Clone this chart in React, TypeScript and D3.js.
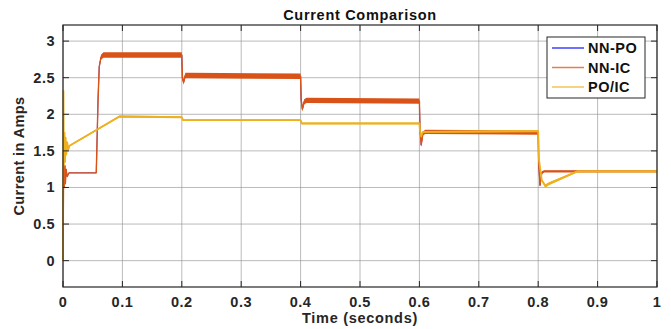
import React, { useEffect, useRef } from 'react';
import * as d3 from 'd3';

// NN-IC current (A)
const nnIcTime = [0, 0.001, 0.002, 0.003, 0.004, 0.005, 0.007, 0.01, 0.056, 0.059, 0.061, 0.064, 0.068, 0.2, 0.201, 0.203, 0.206, 0.21, 0.4, 0.401, 0.403, 0.406, 0.41, 0.6, 0.601, 0.603, 0.606, 0.61, 0.8, 0.801, 0.803, 0.806, 0.81, 1.0];
const nnIcValue = [0, 1.3, 1.0, 1.3, 1.05, 1.25, 1.15, 1.2, 1.2, 2.2, 2.65, 2.78, 2.81, 2.81, 2.5, 2.44, 2.53, 2.53, 2.52, 2.2, 2.07, 2.17, 2.19, 2.18, 1.8, 1.58, 1.74, 1.76, 1.75, 1.3, 1.03, 1.2, 1.22, 1.22];
const nnIcRipple = [0, 0, 0, 0, 0, 0, 0, 0, 0, 0, 0.02, 0.035, 0.038, 0.038, 0.035, 0.035, 0.038, 0.038, 0.038, 0.035, 0.035, 0.035, 0.035, 0.035, 0.028, 0.028, 0.028, 0.028, 0.028, 0.022, 0.022, 0.02, 0.016, 0.016];

// NN-PO is hidden beneath NN-IC
const nnPoValue = nnIcValue;

// PO/IC current (A)
const poIcTime = [0, 0.0008, 0.0015, 0.0025, 0.0035, 0.0045, 0.0055, 0.007, 0.009, 0.011, 0.095, 0.2, 0.202, 0.4, 0.402, 0.6, 0.601, 0.603, 0.606, 0.8, 0.801, 0.806, 0.812, 0.818, 0.866, 1.0];
const poIcValue = [0, 2.32, 1.3, 1.75, 1.35, 1.68, 1.45, 1.62, 1.52, 1.57, 1.97, 1.96, 1.92, 1.92, 1.875, 1.875, 1.78, 1.7, 1.76, 1.77, 1.4, 1.1, 1.02, 1.05, 1.22, 1.22];
const poIcRipple = [0, 0, 0, 0, 0, 0, 0, 0, 0, 0.01, 0.014, 0.014, 0.013, 0.013, 0.013, 0.013, 0.013, 0.013, 0.013, 0.013, 0.013, 0.02, 0.025, 0.02, 0.012, 0.012];

const xTicks = [0, 0.1, 0.2, 0.3, 0.4, 0.5, 0.6, 0.7, 0.8, 0.9, 1];
const yTicks = [0, 0.5, 1, 1.5, 2, 2.5, 3];
const legendNames = ['NN-PO', 'NN-IC', 'PO/IC'];
const colors = ['#0000ff', '#d95319', '#edb120'];

const W = 671;
const H = 329;
const m = { left: 63, right: 14, top: 25, bottom: 42 };

const App = () => {
  const ref = useRef<SVGSVGElement>(null);

  useEffect(() => {
    const svg = d3.select(ref.current);
    svg.selectAll('*').remove();

    const x = d3.scaleLinear().domain([0, 1]).range([m.left, W - m.right]);
    const y = d3.scaleLinear().domain([-0.36, 3.22]).range([H - m.bottom, m.top]);
    const font = 'Arial, "Liberation Sans", Helvetica, sans-serif';

    svg.append('rect').attr('width', W).attr('height', H).attr('fill', 'white');

    // grid
    const grid = svg.append('g').attr('stroke', '#8c8c8c').attr('stroke-width', 1).attr('stroke-opacity', 0.6);
    grid.selectAll('line.v').data(xTicks).join('line')
      .attr('x1', d => x(d)).attr('x2', d => x(d))
      .attr('y1', m.top).attr('y2', H - m.bottom);
    grid.selectAll('line.h').data(yTicks).join('line')
      .attr('y1', d => y(d)).attr('y2', d => y(d))
      .attr('x1', m.left).attr('x2', W - m.right);

    const plot = svg.append('g');

    const series = [
      { t: nnIcTime, v: nnPoValue, r: null, c: colors[0], w: 0.7 },
      { t: nnIcTime, v: nnIcValue, r: nnIcRipple, c: colors[1], w: 1.4 },
      { t: poIcTime, v: poIcValue, r: poIcRipple, c: colors[2], w: 1.8 },
    ];

    series.forEach(s => {
      const idx = d3.range(s.t.length);
      if (s.r) {
        const r = s.r;
        const area = d3.area<number>()
          .x(i => x(s.t[i]))
          .y0(i => y(s.v[i] - r[i]))
          .y1(i => y(s.v[i] + r[i]));
        plot.append('path').attr('d', area(idx)).attr('fill', s.c);
      }
      const line = d3.line<number>().x(i => x(s.t[i])).y(i => y(s.v[i]));
      plot.append('path').attr('d', line(idx)).attr('fill', 'none')
        .attr('stroke', s.c).attr('stroke-width', s.w).attr('stroke-linejoin', 'round');
    });

    // axes box and ticks
    const axisColor = '#262626';
    svg.append('rect')
      .attr('x', m.left).attr('y', m.top)
      .attr('width', W - m.right - m.left).attr('height', H - m.bottom - m.top)
      .attr('fill', 'none').attr('stroke', axisColor).attr('stroke-width', 1.2);

    const tk = svg.append('g').attr('stroke', axisColor).attr('stroke-width', 1);
    xTicks.forEach(d => {
      tk.append('line').attr('x1', x(d)).attr('x2', x(d)).attr('y1', H - m.bottom).attr('y2', H - m.bottom - 6);
      tk.append('line').attr('x1', x(d)).attr('x2', x(d)).attr('y1', m.top).attr('y2', m.top + 6);
    });
    yTicks.forEach(d => {
      tk.append('line').attr('y1', y(d)).attr('y2', y(d)).attr('x1', m.left).attr('x2', m.left + 6);
      tk.append('line').attr('y1', y(d)).attr('y2', y(d)).attr('x1', W - m.right).attr('x2', W - m.right - 6);
    });

    const labels = svg.append('g').attr('font-family', font).attr('font-weight', 'bold')
      .attr('font-size', 14.5).attr('letter-spacing', 0.5).attr('fill', '#262626');
    labels.selectAll('text.x').data(xTicks).join('text')
      .attr('x', d => x(d)).attr('y', H - m.bottom + 20)
      .attr('text-anchor', 'middle').text(d => String(d));
    labels.selectAll('text.y').data(yTicks).join('text')
      .attr('x', m.left - 8).attr('y', d => y(d) + 5)
      .attr('text-anchor', 'end').text(d => String(d));

    svg.append('text')
      .attr('x', (m.left + W - m.right) / 2).attr('y', 20)
      .attr('text-anchor', 'middle').attr('font-family', font).attr('font-weight', 'bold')
      .attr('font-size', 14.5).attr('letter-spacing', 0.7).attr('fill', '#111').text('Current Comparison');

    svg.append('text')
      .attr('x', (m.left + W - m.right) / 2).attr('y', 323)
      .attr('text-anchor', 'middle').attr('font-family', font).attr('font-weight', 'bold')
      .attr('font-size', 14.5).attr('letter-spacing', 0.7).attr('fill', '#262626').text('Time (seconds)');

    svg.append('text')
      .attr('transform', `translate(24,${(m.top + H - m.bottom) / 2}) rotate(-90)`)
      .attr('text-anchor', 'middle').attr('font-family', font).attr('font-weight', 'bold')
      .attr('font-size', 14.5).attr('letter-spacing', 0.4).attr('fill', '#262626').text('Current in Amps');

    // legend
    const lg = svg.append('g').attr('transform', 'translate(547,37)');
    lg.append('rect').attr('width', 98).attr('height', 61)
      .attr('fill', 'white').attr('stroke', axisColor).attr('stroke-width', 1);
    legendNames.forEach((name, i) => {
      const yy = 11 + i * 19.5;
      lg.append('line').attr('x1', 5).attr('x2', 37).attr('y1', yy).attr('y2', yy)
        .attr('stroke', colors[i]).attr('stroke-width', 1.5).attr('stroke-opacity', 0.75);
      lg.append('text').attr('x', 41).attr('y', yy + 5)
        .attr('font-family', font).attr('font-weight', 'bold').attr('font-size', 14.5)
        .attr('letter-spacing', 0.5).attr('fill', '#111').text(name);
    });
  }, []);

  return (
    <div style={{ position: 'absolute', left: 0, top: 0 }}>
      <svg ref={ref} width={W} height={H} style={{ display: 'block' }}></svg>
    </div>
  );
};

export default App;
